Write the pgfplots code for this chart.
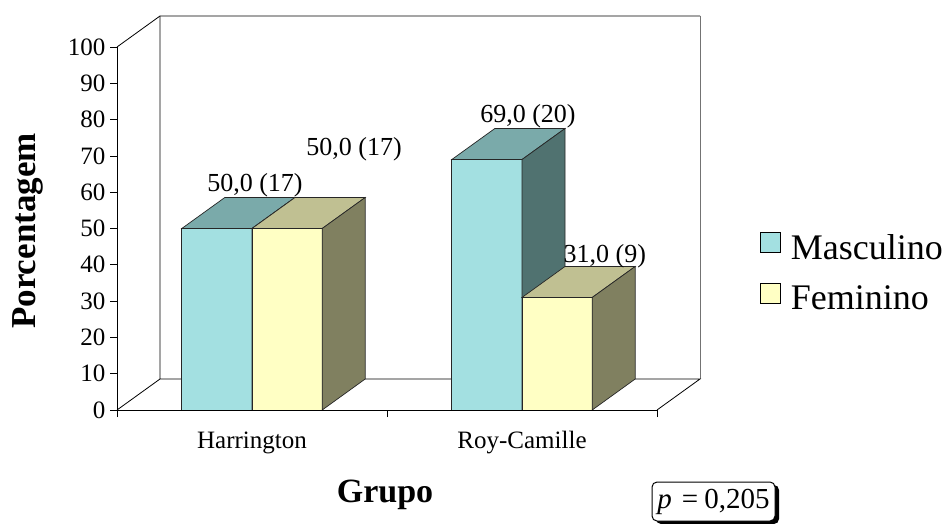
\documentclass[border=0pt]{standalone}
\usepackage{pgfplots}
\pgfplotsset{compat=1.18}
\usepackage{fontspec}
\setmainfont{Liberation Serif}
\usetikzlibrary{shadows}

\definecolor{mascFront}{RGB}{163,224,225}
\definecolor{mascTop}{RGB}{122,170,170}
\definecolor{mascSide}{RGB}{80,114,112}
\definecolor{femFront}{RGB}{255,255,196}
\definecolor{femTop}{RGB}{192,192,146}
\definecolor{femSide}{RGB}{128,128,96}

% one 3-D block: front, top and right face
% #1 left edge, #2 right edge, #3 value (%), #4 colour prefix
\newcommand{\block}[4]{%
  \addplot3[fill=#4Front, draw=black!85, line width=0.7pt]
    coordinates {(#1,0,0) (#2,0,0) (#2,0,#3) (#1,0,#3)} -- cycle;
  \addplot3[fill=#4Top, draw=black!85, line width=0.7pt]
    coordinates {(#1,0,#3) (#2,0,#3) (#2,1,#3) (#1,1,#3)} -- cycle;
  \addplot3[fill=#4Side, draw=black!85, line width=0.7pt]
    coordinates {(#2,0,0) (#2,1,0) (#2,1,#3) (#2,0,#3)} -- cycle;
}

\begin{document}
\begin{tikzpicture}[x=1pt,y=1pt]
\useasboundingbox (0pt,0pt) rectangle (947pt,-524pt);

% oblique box: categories along x, depth along y, percentage along z
\begin{axis}[
  at={(117pt,-410pt)}, anchor=origin,
  x={(270pt,0pt)}, y={(43pt,31pt)}, z={(0pt,3.63pt)},
  xmin=0, xmax=2, ymin=0, ymax=1, zmin=0, zmax=100,
  hide axis, clip=false,
]
  % walls and floor
  \draw[black, line width=0.8pt] (axis cs:0,0,100) -- (axis cs:0,1,100) -- (axis cs:2,1,100);
  \draw[black!55, line width=1pt] (axis cs:2,1,100) -- (axis cs:2,1,0);
  \draw[black, line width=0.8pt] (axis cs:0,1,100) -- (axis cs:0,1,0) -- (axis cs:2,1,0) -- (axis cs:2,0,0);
  \draw[black, line width=0.8pt] (axis cs:0,0,0) -- (axis cs:0,1,0);

  % Harrington
  \block{0.24}{0.50}{50}{masc}
  \block{0.50}{0.76}{50}{fem}
  % Roy-Camille
  \block{1.24}{1.50}{69}{masc}
  \block{1.50}{1.76}{31}{fem}
\end{axis}

% front frame, ticks, labels and legend
\begin{axis}[
  at={(117pt,-410pt)}, anchor=origin,
  x={(270pt,0pt)}, y={(0pt,3.63pt)},
  xmin=0, xmax=2, ymin=0, ymax=100,
  axis x line*=bottom, axis y line*=left,
  axis line style={line width=0.8pt, black},
  tick style={line width=0.8pt, black},
  tick align=outside, major tick length=7pt,
  ytick={0,10,...,100},
  xtick={0,1,2}, xticklabels={},
  extra x ticks={0.5,1.5},
  extra x tick labels={Harrington,Roy-Camille},
  extra x tick style={major tick length=0pt,
    tick label style={yshift=-18pt}},
  /pgf/number format/assume math mode=true,
  yticklabel style={font=\fontsize{25}{27}\selectfont, xshift=-1pt},
  xticklabel style={font=\fontsize{25}{28}\selectfont},
  clip=false,
  legend style={at={(axis cs:2.381,49.0)}, anchor=north west, draw=none,
    fill=none, font=\fontsize{36}{40}\selectfont,
    row sep=20pt, inner sep=0pt,
    nodes={inner sep=2pt}},
  legend cell align=left,
]
  \addlegendimage{legend image code/.code={\draw[fill=mascFront, draw=black, line width=0.8pt] (0pt,-5pt) rectangle (20pt,15pt);}}
  \addlegendentry{\hspace{8pt}Masculino}
  \addlegendimage{legend image code/.code={\draw[fill=femFront, draw=black, line width=0.8pt] (0pt,-5pt) rectangle (20pt,15pt);}}
  \addlegendentry{\hspace{8pt}Feminino}

  % value labels: percentage (count)
  \begin{scope}[every node/.style={font=\fontsize{26}{28}\selectfont, anchor=base, inner sep=0pt}]
    \node at (axis cs:0.511,60.1) {50,0 (17)};
    \node at (axis cs:0.878,70.2) {50,0 (17)};
    \node at (axis cs:1.522,79.1) {69,0 (20)};
    \node at (axis cs:1.807,40.5) {31,0 (9)};
  \end{scope}
\end{axis}

% axis titles
\node[font=\bfseries\fontsize{34}{38}\selectfont] at (385pt,-495pt) {Grupo};
\node[font=\bfseries\fontsize{35}{38}\selectfont, rotate=90] at (28pt,-231pt) {Porcentagem};

% test statistic box
\node[draw=black, line width=1pt, fill=white, rounded corners=5pt,
      minimum width=123pt, minimum height=39pt, inner sep=0pt,
      drop shadow={shadow xshift=4pt, shadow yshift=-3pt, fill=black, opacity=1},
      font=\fontsize{29}{31}\selectfont]
  at (713.5pt,-501.5pt) {\itshape p\upshape\hspace{10pt}=\hspace{6pt}0,205};
\end{tikzpicture}
\end{document}
